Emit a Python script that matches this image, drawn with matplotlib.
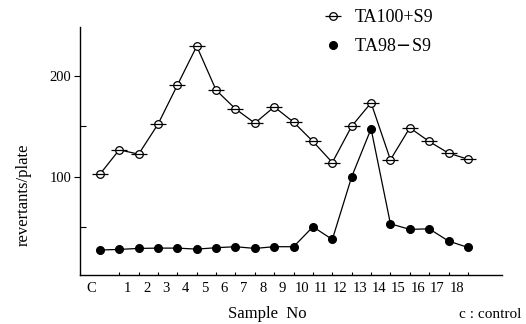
import matplotlib
matplotlib.use('Agg')

import matplotlib.pyplot as plt
import numpy as np
from matplotlib.lines import Line2D

# samples: control + 19 measured points (as drawn)
ta100 = [102.6, 126.8, 122.5, 152.3, 191.1, 229.8, 186.1, 167.5, 153.3, 169.5,
         154.3, 135.1, 114.2, 150.3, 173.5, 116.9, 148.7, 135.1, 123.5, 117.5]
ta98 = [27.2, 27.8, 28.8, 29.1, 29.1, 28.1, 29.5, 30.5, 28.8, 30.5,
        30.5, 50.3, 37.7, 100.0, 147.7, 53.3, 47.7, 48.3, 36.1, 29.8]
xlabels = ['C'] + [str(i) for i in range(1, 19)]

serif = 'Liberation Serif'
x = np.arange(len(ta100))

fig = plt.figure(figsize=(5.26, 3.24), dpi=100)
ax = fig.add_axes([0.152, 0.151, 0.802, 0.766])

ax.plot(x, ta100, '-', color='black', lw=0.9)
ax.plot(x, ta100, 'o', ms=5.5, mfc='white', mec='black', mew=0.9)
ax.plot(x, ta100, '_', ms=11, mec='black', mew=0.9)
ax.plot(x, ta98, '-o', color='black', lw=0.9, ms=5.5)

ax.set_xlim(-1.03, 20.75)
ax.set_ylim(2.3, 249)

# labels sit a bit right of the points, C left of the first one
pos = np.concatenate([[-0.46], np.arange(1, 19) + 0.42])
ax.set_xticks(pos)
ax.set_xticklabels(xlabels, fontfamily=serif, fontsize=10.5)
ax.tick_params(axis='x', length=0, pad=5)
ax.set_xticks(x[1:], minor=True)
ax.tick_params(axis='x', which='minor', direction='in', length=2.5, width=0.8)

ax.set_yticks([100, 200])
ax.set_yticklabels(['100', '200'], fontfamily=serif, fontsize=10.5)
ax.tick_params(axis='y', direction='out', length=4, width=0.8, pad=2)
ax.set_yticks([50, 150], minor=True)
ax.tick_params(axis='y', which='minor', direction='in', length=4, width=0.8)

for s in ['top', 'right']:
    ax.spines[s].set_visible(False)
for s in ['left', 'bottom']:
    ax.spines[s].set_linewidth(1.0)

fig.text(0.046, 0.40, 'revertants/plate', rotation=90, ha='center', va='center',
         fontfamily=serif, fontsize=12)
fig.text(0.508, 0.032, 'Sample  No', ha='center', va='center',
         fontfamily=serif, fontsize=12)
fig.text(0.992, 0.008, 'c : control', ha='right', va='bottom',
         fontfamily=serif, fontsize=11)

h1 = (Line2D([], [], ls='none', marker='o', ms=5.5, mfc='white', mec='black', mew=0.9),
      Line2D([], [], ls='none', marker='_', ms=11, mec='black', mew=0.9))
h2 = Line2D([], [], ls='none', marker='o', ms=5.5, color='black')
fig.legend([h1, h2], ['TA100+S9', 'TA98$-$S9'], loc='upper left',
           bbox_to_anchor=(0.581, 1.022), frameon=False, handlelength=1.2,
           handletextpad=0.6, labelspacing=0.65, prop={'family': serif, 'size': 13})

plt.savefig('out.png', dpi=100)
